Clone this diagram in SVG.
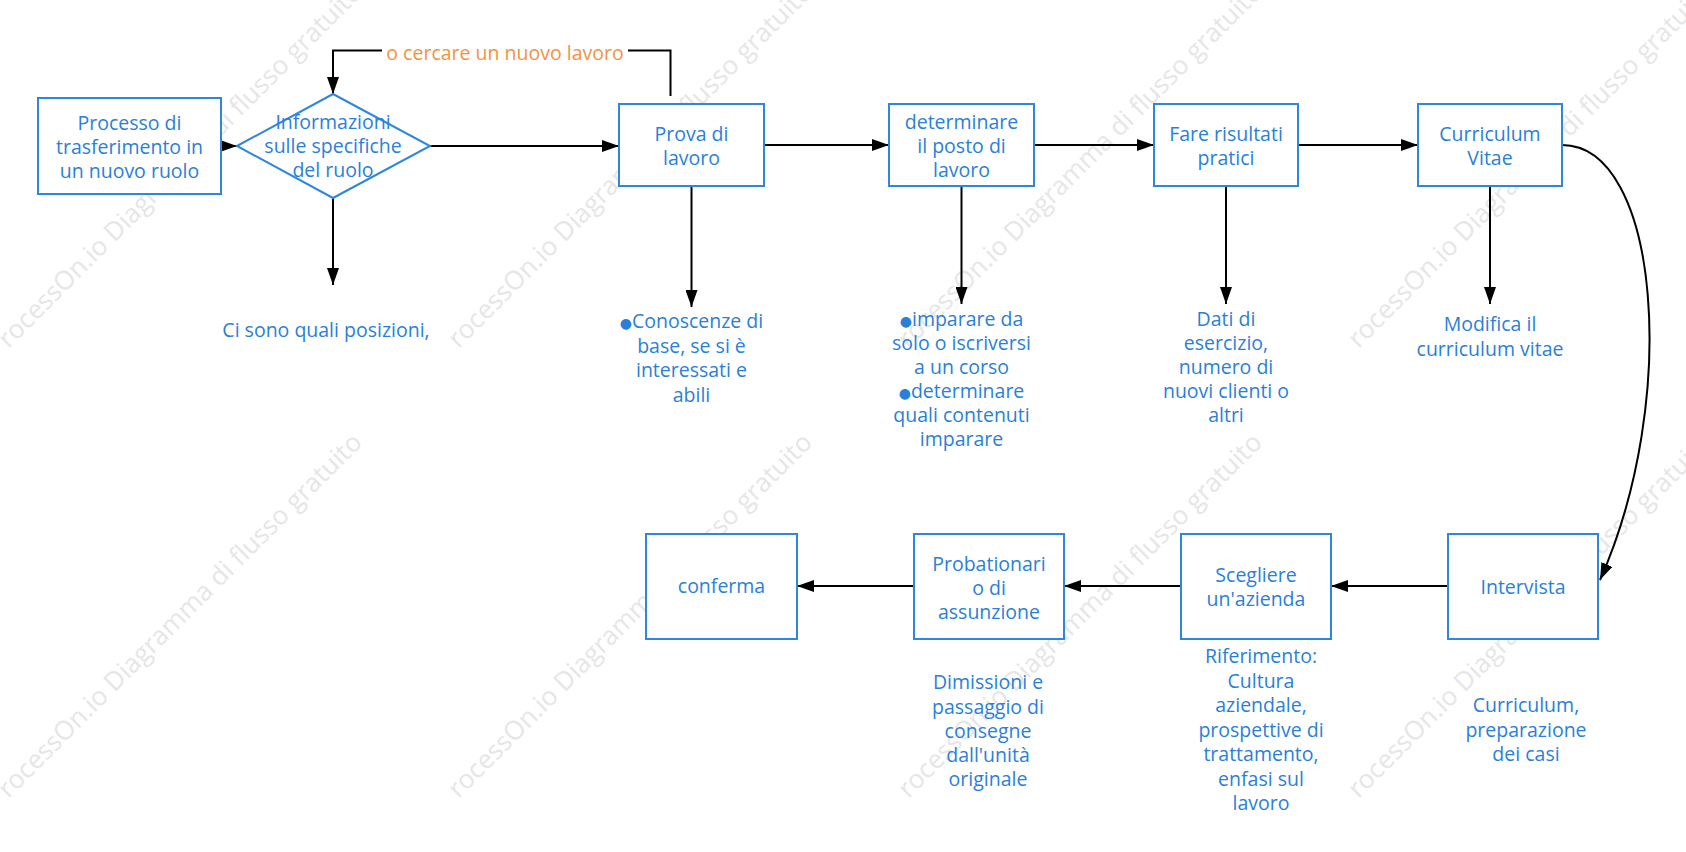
<svg xmlns="http://www.w3.org/2000/svg" width="1686" height="852" viewBox="0 0 1686 852">
<style>
.wm{font-family:"Open Sans","DejaVu Sans",sans-serif;font-size:26px;fill:#e6e6e6}
.t{font-family:"Open Sans","DejaVu Sans",sans-serif;font-size:19.5px;fill:#2a7fd8;text-anchor:middle}
.lbl{font-family:"Open Sans","DejaVu Sans",sans-serif;font-size:19.5px;fill:#f5923e;text-anchor:middle}
.box{fill:#ffffff;stroke:#2e86de;stroke-width:2}
.ln{fill:none;stroke:#000000;stroke-width:2}
.b{font-size:14px}
</style>
<defs>
<marker id="arr" markerUnits="userSpaceOnUse" markerWidth="17" markerHeight="12" viewBox="0 0 17 12" refX="17" refY="6" orient="auto">
<path d="M0,0 L17,6 L0,12 z" fill="#000000"/>
</marker>
</defs>
<rect x="0" y="0" width="1686" height="852" fill="#ffffff"/>
<g id="watermark">
<text class="wm" transform="translate(8.5,349) rotate(-45)">rocessOn.io Diagramma di flusso gratuito</text>
<text class="wm" transform="translate(458.5,349) rotate(-45)">rocessOn.io Diagramma di flusso gratuito</text>
<text class="wm" transform="translate(908.5,349) rotate(-45)">rocessOn.io Diagramma di flusso gratuito</text>
<text class="wm" transform="translate(1358.5,349) rotate(-45)">rocessOn.io Diagramma di flusso gratuito</text>
<text class="wm" transform="translate(8.5,799) rotate(-45)">rocessOn.io Diagramma di flusso gratuito</text>
<text class="wm" transform="translate(458.5,799) rotate(-45)">rocessOn.io Diagramma di flusso gratuito</text>
<text class="wm" transform="translate(908.5,799) rotate(-45)">rocessOn.io Diagramma di flusso gratuito</text>
<text class="wm" transform="translate(1358.5,799) rotate(-45)">rocessOn.io Diagramma di flusso gratuito</text>
</g>
<g id="connectors">
<path class="ln" d="M221,146 L237,146" marker-end="url(#arr)"/>
<path class="ln" d="M670.5,96 L670.5,50.5 L333,50.5 L333,94" marker-end="url(#arr)"/>
<rect x="382" y="38" width="246" height="26" fill="#ffffff"/>
<text class="lbl" x="505" y="60">o cercare un nuovo lavoro</text>
<path class="ln" d="M430,146 L619,146" marker-end="url(#arr)"/>
<path class="ln" d="M333,198 L333,285" marker-end="url(#arr)"/>
<path class="ln" d="M764,145 L889,145" marker-end="url(#arr)"/>
<path class="ln" d="M691.5,186 L691.5,307" marker-end="url(#arr)"/>
<path class="ln" d="M1034,145 L1154,145" marker-end="url(#arr)"/>
<path class="ln" d="M961.5,186 L961.5,304" marker-end="url(#arr)"/>
<path class="ln" d="M1298,145 L1418,145" marker-end="url(#arr)"/>
<path class="ln" d="M1226,186 L1226,304" marker-end="url(#arr)"/>
<path class="ln" d="M1490,186 L1490,304" marker-end="url(#arr)"/>
<path class="ln" d="M1562,145 C1660,145 1680,400 1600,580" marker-end="url(#arr)"/>
<path class="ln" d="M1448,586 L1331,586" marker-end="url(#arr)"/>
<path class="ln" d="M1181,586 L1064,586" marker-end="url(#arr)"/>
<path class="ln" d="M914,586 L797,586" marker-end="url(#arr)"/>
</g>
<g id="n1">
<rect class="box" x="38" y="98" width="183" height="96"/>
<text class="t" x="129.5" y="130">Processo di</text>
<text class="t" x="129.5" y="154">trasferimento in</text>
<text class="t" x="129.5" y="178">un nuovo ruolo</text>
</g>
<g id="n2">
<polygon class="box" points="237,146 333,94 430,146 333,198"/>
<text class="t" x="333" y="129">Informazioni</text>
<text class="t" x="333" y="153">sulle specifiche</text>
<text class="t" x="333" y="177">del ruolo</text>
</g>
<g id="n2-note">
<text class="t" x="326" y="337">Ci sono quali posizioni,</text>
</g>
<g id="n3">
<rect class="box" x="619" y="104" width="145" height="82"/>
<text class="t" x="691.5" y="141">Prova di</text>
<text class="t" x="691.5" y="165">lavoro</text>
</g>
<g id="n3-note">
<text class="t" x="691.5" y="328"><tspan class="b">●</tspan>Conoscenze di</text>
<text class="t" x="691.5" y="352.5">base, se si è</text>
<text class="t" x="691.5" y="377">interessati e</text>
<text class="t" x="691.5" y="401.5">abili</text>
</g>
<g id="n4">
<rect class="box" x="889" y="104" width="145" height="82"/>
<text class="t" x="961.5" y="129">determinare</text>
<text class="t" x="961.5" y="153">il posto di</text>
<text class="t" x="961.5" y="177">lavoro</text>
</g>
<g id="n4-note">
<text class="t" x="961.5" y="326"><tspan class="b">●</tspan>imparare da</text>
<text class="t" x="961.5" y="350">solo o iscriversi</text>
<text class="t" x="961.5" y="374">a un corso</text>
<text class="t" x="961.5" y="398"><tspan class="b">●</tspan>determinare</text>
<text class="t" x="961.5" y="422">quali contenuti</text>
<text class="t" x="961.5" y="446">imparare</text>
</g>
<g id="n5">
<rect class="box" x="1154" y="104" width="144" height="82"/>
<text class="t" x="1226" y="141">Fare risultati</text>
<text class="t" x="1226" y="165">pratici</text>
</g>
<g id="n5-note">
<text class="t" x="1226" y="325.5">Dati di</text>
<text class="t" x="1226" y="350">esercizio,</text>
<text class="t" x="1226" y="374">numero di</text>
<text class="t" x="1226" y="398">nuovi clienti o</text>
<text class="t" x="1226" y="422">altri</text>
</g>
<g id="n6">
<rect class="box" x="1418" y="104" width="144" height="82"/>
<text class="t" x="1490" y="141">Curriculum</text>
<text class="t" x="1490" y="165">Vitae</text>
</g>
<g id="n6-note">
<text class="t" x="1490" y="331">Modifica il</text>
<text class="t" x="1490" y="355.5">curriculum vitae</text>
</g>
<g id="n7">
<rect class="box" x="1448" y="534" width="150" height="105"/>
<text class="t" x="1523" y="594">Intervista</text>
</g>
<g id="n7-note">
<text class="t" x="1526" y="712">Curriculum,</text>
<text class="t" x="1526" y="736.5">preparazione</text>
<text class="t" x="1526" y="761">dei casi</text>
</g>
<g id="n8">
<rect class="box" x="1181" y="534" width="150" height="105"/>
<text class="t" x="1256" y="582">Scegliere</text>
<text class="t" x="1256" y="606">un'azienda</text>
</g>
<g id="n8-note">
<text class="t" x="1261" y="663">Riferimento:</text>
<text class="t" x="1261" y="687.5">Cultura</text>
<text class="t" x="1261" y="712">aziendale,</text>
<text class="t" x="1261" y="736.5">prospettive di</text>
<text class="t" x="1261" y="761">trattamento,</text>
<text class="t" x="1261" y="785.5">enfasi sul</text>
<text class="t" x="1261" y="810">lavoro</text>
</g>
<g id="n9">
<rect class="box" x="914" y="534" width="150" height="105"/>
<text class="t" x="989" y="570.5">Probationari</text>
<text class="t" x="989" y="594.5">o di</text>
<text class="t" x="989" y="619">assunzione</text>
</g>
<g id="n9-note">
<text class="t" x="988" y="689">Dimissioni e</text>
<text class="t" x="988" y="713.5">passaggio di</text>
<text class="t" x="988" y="737.5">consegne</text>
<text class="t" x="988" y="762">dall'unità</text>
<text class="t" x="988" y="786">originale</text>
</g>
<g id="n10">
<rect class="box" x="646" y="534" width="151" height="105"/>
<text class="t" x="721.5" y="593">conferma</text>
</g>
</svg>
